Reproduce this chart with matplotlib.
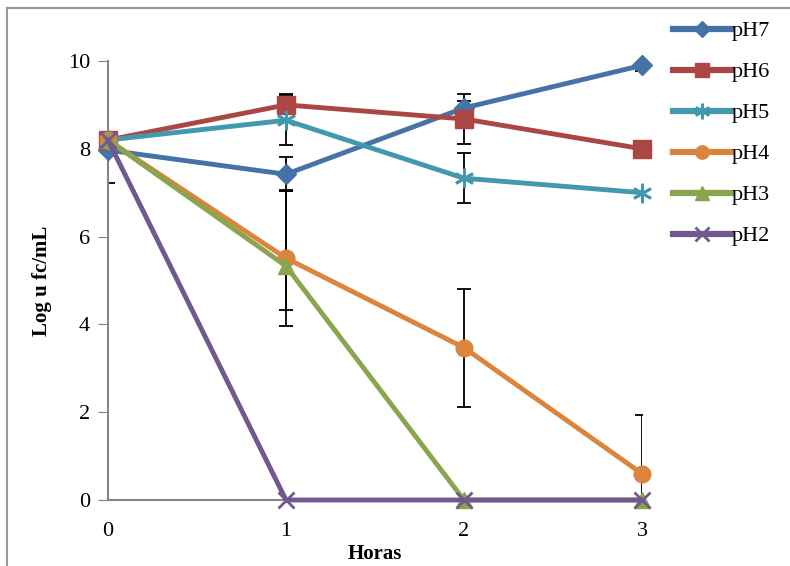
import numpy as np
import matplotlib.pyplot as plt
from matplotlib.lines import Line2D

plt.rcParams['font.family'] = ['Liberation Serif', 'DejaVu Serif']

# datos
horas = [0, 1, 2, 3]
series = ['pH7', 'pH6', 'pH5', 'pH4', 'pH3', 'pH2']
ph7 = [7.97, 7.42, 8.93, 9.90]
ph6 = [8.20, 9.00, 8.68, 8.00]
ph5 = [8.20, 8.65, 7.33, 7.00]
ph4 = [8.20, 5.51, 3.47, 0.60]
ph3 = [8.20, 5.33, 0.00, 0.00]
ph2 = [8.20, 0.00, 0.00, 0.00]

# barras de error (abajo, arriba)
err7 = [[0.75, 0.37, 0.0, 0.12], [0.0, 0.39, 0.17, 0.0]]
err6 = [[0.0, 0.0, 0.57, 0.0], [0.0, 0.25, 0.57, 0.0]]
err5 = [[0.0, 0.57, 0.57, 0.0], [0.0, 0.57, 0.57, 0.0]]
err4 = [[0.0, 1.55, 1.35, 1.34], [0.0, 1.55, 1.33, 1.34]]
err3 = [[0.0, 1.0, 0.0, 0.0], [0.0, 1.7, 0.0, 0.0]]
err2 = [[0.0, 0.0, 0.0, 0.0], [0.0, 0.0, 0.0, 0.0]]

valores = [ph7, ph6, ph5, ph4, ph3, ph2]
errores = [err7, err6, err5, err4, err3, err2]
colores = ['#4572A7', '#AA4643', '#4198AF', '#DB843D', '#89A54E', '#71588F']
marcas = ['D', 's', (6, 2, 0), 'o', '^', 'x']
tams = [10, 13, 14, 12, 12, 12]

fig = plt.figure(figsize=(7.9, 5.66), dpi=100)
ax = fig.add_axes([108 / 790, 1 - 500 / 566, 534 / 790, 439 / 566])

for i in range(len(series)):
    ax.errorbar(horas, valores[i], yerr=errores[i], fmt='none', ecolor='black',
                elinewidth=1.3, capsize=5, capthick=1.3, zorder=2)

for i in range(len(series)):
    mew = 2 if marcas[i] in ('x', (6, 2, 0)) else 1
    ax.plot(horas, valores[i], color=colores[i], lw=3.5, marker=marcas[i],
            ms=tams[i], mew=mew, mec=colores[i], label=series[i], zorder=3 + i,
            clip_on=False)

ax.set_xlim(0, 3)
ax.set_ylim(0, 10)
ax.set_xticks(horas)
ax.set_yticks([0, 2, 4, 6, 8, 10])
ax.tick_params(axis='y', length=7, color='#868686', labelsize=16, pad=6)
ax.tick_params(axis='x', length=0, labelsize=16, pad=16)
for s in ['top', 'right']:
    ax.spines[s].set_visible(False)
for s in ['left', 'bottom']:
    ax.spines[s].set_color('#868686')
    ax.spines[s].set_linewidth(1.5)

ax.set_xlabel('Horas', fontsize=15, fontweight='bold', labelpad=2)
ax.set_ylabel('Log u fc/mL', fontsize=15, fontweight='bold', labelpad=11)

leg = ax.legend(loc='upper left', bbox_to_anchor=(664 / 790, 1 - 12 / 566),
                bbox_transform=fig.transFigure, frameon=False, fontsize=16,
                handlelength=2.6, handletextpad=0.05, labelspacing=0.92,
                borderaxespad=0, markerscale=0.8)
for h in leg.legend_handles:
    h.set_linewidth(4.5)

# marco de la figura (solo izquierda y arriba visibles)
fig.add_artist(Line2D([7 / 790, 7 / 790], [0, 1 - 8 / 566], transform=fig.transFigure,
                      color='#999999', lw=1.5))
fig.add_artist(Line2D([7 / 790, 1], [1 - 8 / 566, 1 - 8 / 566], transform=fig.transFigure,
                      color='#999999', lw=1.5))

fig.savefig('out.png', dpi=100)
